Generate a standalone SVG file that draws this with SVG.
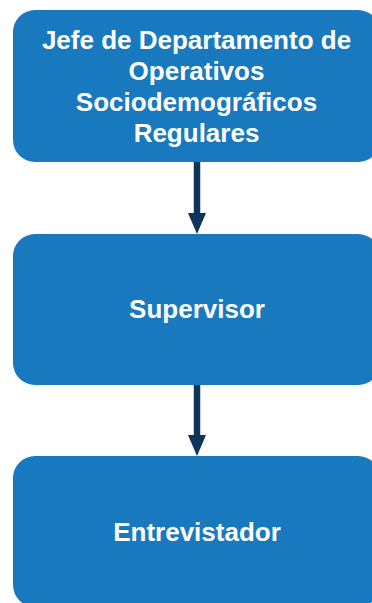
<svg xmlns="http://www.w3.org/2000/svg" width="372" height="603" viewBox="0 0 372 603">
<style>
.box{fill:#1879BE;}
.lbl{fill:#FFFFFF;font-family:"Liberation Sans",Arial,sans-serif;font-weight:bold;font-size:26px;text-anchor:middle;}
.conn{stroke:#0E3559;stroke-width:6.5;fill:none;}
.head{fill:#0E3559;}
</style>
<rect width="372" height="603" fill="#FFFFFF"/>
<g id="connectors">
<line class="conn" x1="197" y1="160" x2="197" y2="216"/>
<polygon class="head" points="188,213 206,213 197,234"/>
<line class="conn" x1="197" y1="383" x2="197" y2="438"/>
<polygon class="head" points="188,435 206,435 197,456"/>
</g>
<g id="node-jefe">
<rect class="box" x="13" y="10" width="367" height="152" rx="22" ry="22"/>
<text class="lbl" x="196.5" y="49">Jefe de Departamento de</text>
<text class="lbl" x="196.5" y="80">Operativos</text>
<text class="lbl" x="196.5" y="111">Sociodemográficos</text>
<text class="lbl" x="196.5" y="142">Regulares</text>
</g>
<g id="node-supervisor">
<rect class="box" x="13" y="234" width="367" height="151" rx="22" ry="22"/>
<text class="lbl" x="197" y="318">Supervisor</text>
</g>
<g id="node-entrevistador">
<rect class="box" x="13" y="456" width="367" height="151" rx="22" ry="22"/>
<text class="lbl" x="197" y="541">Entrevistador</text>
</g>
</svg>
